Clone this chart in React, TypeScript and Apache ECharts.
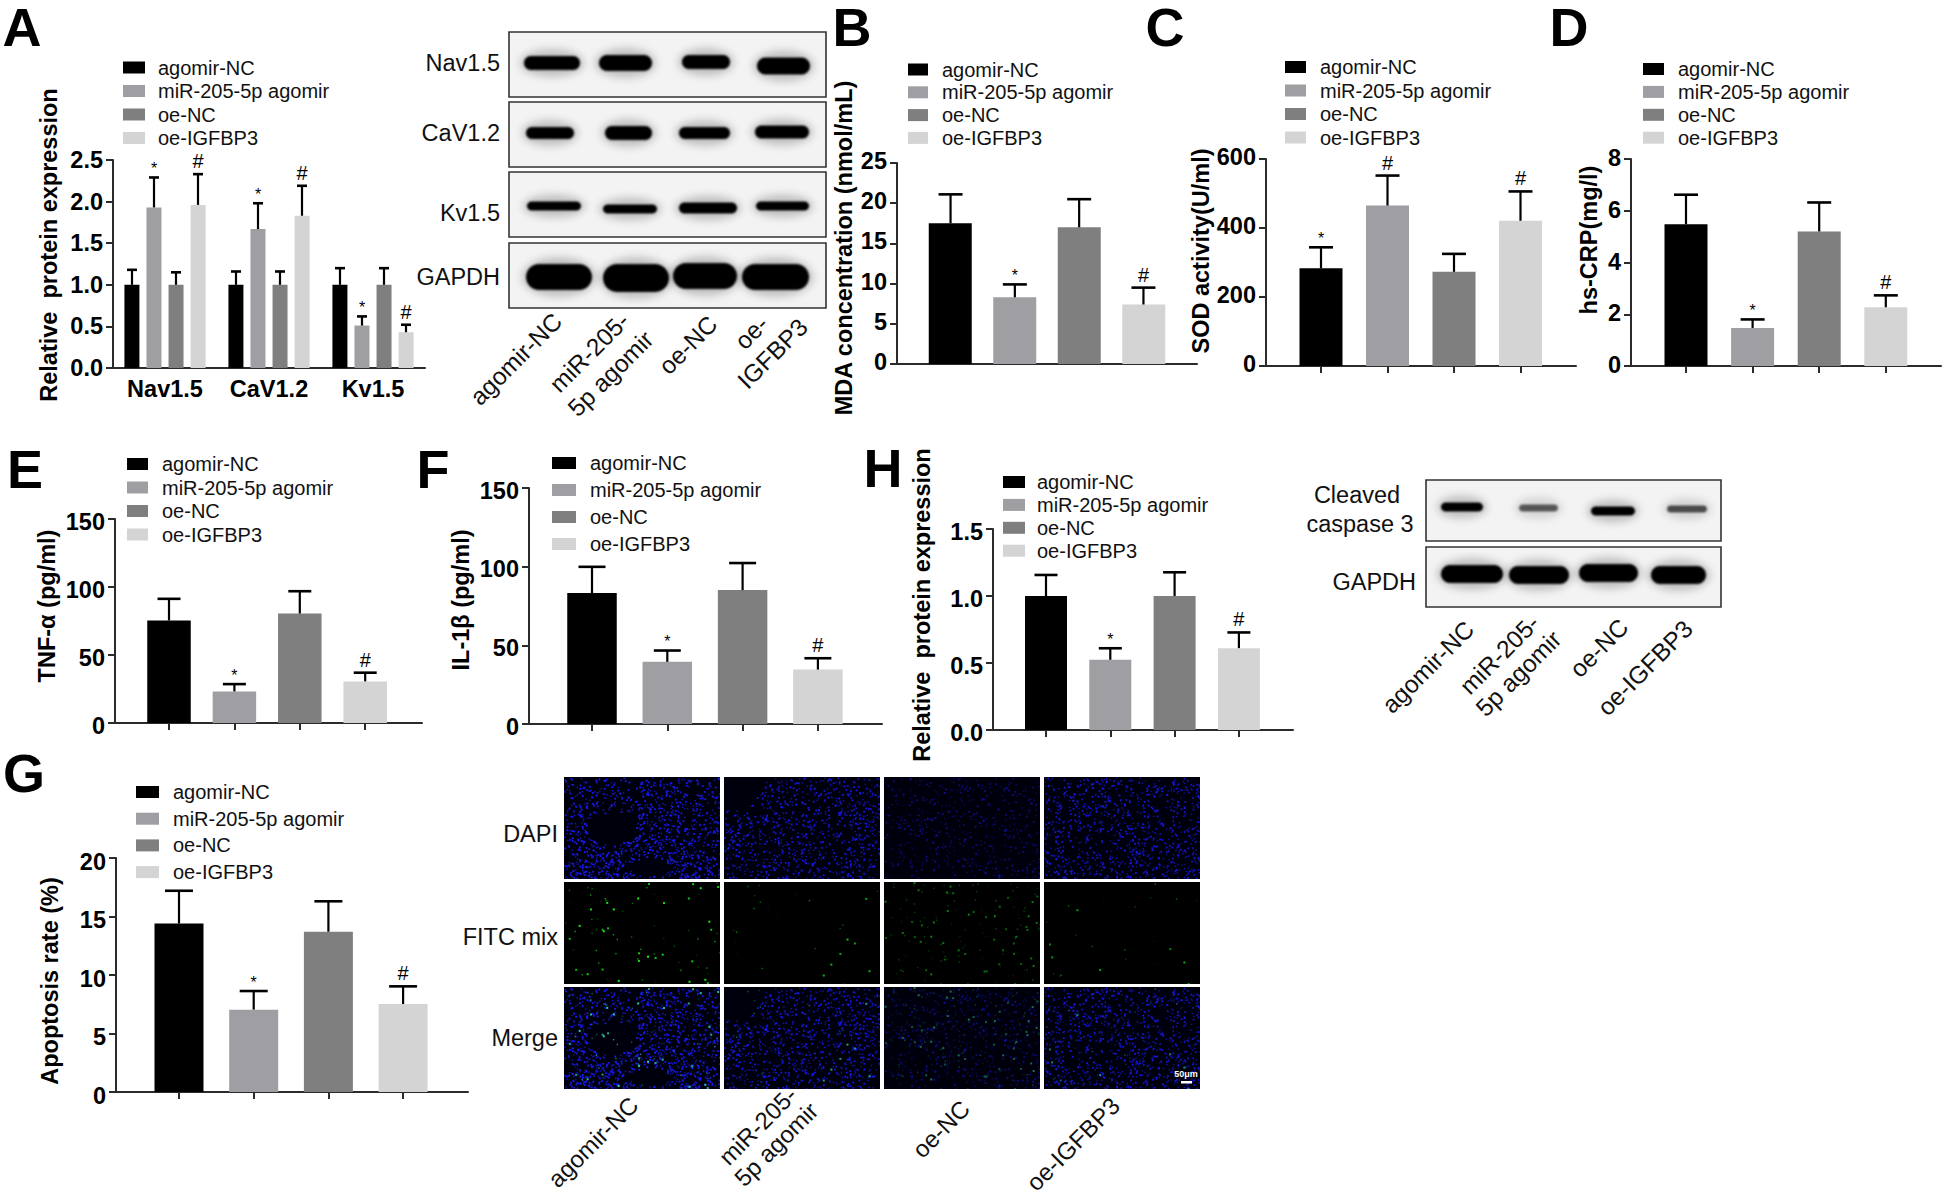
import React, { useEffect, useRef } from "react";
import * as echarts from "echarts";

// ---------- data ----------
const seriesNames = ["agomir-NC", "miR-205-5p agomir", "oe-NC", "oe-IGFBP3"];
const seriesColors = ["#000000", "#9e9ea3", "#7f7f7f", "#d4d4d4"];

const aCategories = ["Nav1.5", "CaV1.2", "Kv1.5"];
const aMeans = [
  [1.0, 1.0, 1.0],
  [1.93, 1.67, 0.51],
  [1.0, 1.0, 1.0],
  [1.96, 1.83, 0.43],
];
const aUppers = [
  [1.18, 1.16, 1.2],
  [2.29, 1.98, 0.62],
  [1.15, 1.16, 1.2],
  [2.33, 2.19, 0.52],
];
const aMarks = [
  ["", "", ""],
  ["*", "*", "*"],
  ["", "", ""],
  ["#", "#", "#"],
];

const bMeans = [17.5, 8.3, 17.0, 7.4];
const bUppers = [21.1, 9.9, 20.5, 9.5];
const bMarks = ["", "*", "", "#"];

const cMeans = [283, 465, 273, 421];
const cUppers = [344, 552, 325, 506];
const cMarks = ["*", "#", "", "#"];

const dMeans = [5.48, 1.47, 5.2, 2.27];
const dUppers = [6.62, 1.8, 6.32, 2.73];
const dMarks = ["", "*", "", "#"];

const eMeans = [75.4, 23.2, 80.5, 30.6];
const eUppers = [91.3, 28.6, 96.9, 37];
const eMarks = ["", "*", "", "#"];

const fMeans = [83.2, 39.5, 85.1, 34.6];
const fUppers = [99.9, 46.7, 102.3, 41.8];
const fMarks = ["", "*", "", "#"];

const hMeans = [1.0, 0.524, 1.0, 0.611];
const hUppers = [1.157, 0.61, 1.177, 0.728];
const hMarks = ["", "*", "", "#"];

const gMeans = [14.4, 7.04, 13.7, 7.52];
const gUppers = [17.2, 8.63, 16.3, 9.03];
const gMarks = ["", "*", "", "#"];

// ---------- layout (pixels on the 1944x1194 page) ----------
const FONT = '"Liberation Sans", Arial, sans-serif';
const BOLD = 23.5;
const RAD = Math.PI / 180;
const AXIS = "#2b2b2b";

type Panel = {
  left: number; right: number; top: number; bottom: number;
  yMax: number; yStep: number; digits: number; labelPad: number;
  tick0: number; tickStep: number; barW: number; capW: number;
  means: number[]; uppers: number[]; marks: string[];
  legend: { x: number; y: number; gap: number; sw: number; pad: number };
};

const singlePanels: Panel[] = [
  { left: 1266, right: 1576, top: 159, bottom: 366, yMax: 600, yStep: 200, digits: 0, labelPad: -2, tick0: 1321, tickStep: 66.5, barW: 43, capW: 24,
    means: cMeans, uppers: cUppers, marks: cMarks, legend: { x: 1285, y: 67, gap: 23.5, sw: 21, pad: 9 } },
  { left: 1631, right: 1941, top: 159, bottom: 366, yMax: 8, yStep: 2, digits: 0, labelPad: -1, tick0: 1686, tickStep: 66.6, barW: 43, capW: 24,
    means: dMeans, uppers: dUppers, marks: dMarks, legend: { x: 1643, y: 69, gap: 22.9, sw: 21, pad: 9 } },
  { left: 115, right: 422, top: 519, bottom: 723, yMax: 150, yStep: 50, digits: 0, labelPad: 2.5, tick0: 169, tickStep: 65.4, barW: 43.5, capW: 23,
    means: eMeans, uppers: eUppers, marks: eMarks, legend: { x: 127, y: 464, gap: 23.5, sw: 21, pad: 9 } },
  { left: 529, right: 882, top: 488, bottom: 724, yMax: 150, yStep: 50, digits: 0, labelPad: 2.5, tick0: 592, tickStep: 75.3, barW: 49.5, capW: 27,
    means: fMeans, uppers: fUppers, marks: fMarks, legend: { x: 552, y: 463, gap: 27, sw: 24, pad: 9 } },
  { left: 993, right: 1293, top: 529, bottom: 730, yMax: 1.5, yStep: 0.5, digits: 1, labelPad: 3, tick0: 1046, tickStep: 64.3, barW: 42, capW: 23,
    means: hMeans, uppers: hUppers, marks: hMarks, legend: { x: 1003, y: 482, gap: 22.9, sw: 22, pad: 7 } },
  { left: 116, right: 468, top: 858, bottom: 1092, yMax: 20, yStep: 5, digits: 0, labelPad: 3.5, tick0: 179, tickStep: 74.7, barW: 49, capW: 28,
    means: gMeans, uppers: gUppers, marks: gMarks, legend: { x: 136, y: 792, gap: 26.7, sw: 23, pad: 9 } },
];

// ---------- textures for the photographs (blots, micrographs) ----------
type Band = [number, number, number, number, number];

function blotImage(w: number, h: number, bands: Band[]): string {
  const c = document.createElement("canvas");
  c.width = w * 2; c.height = h * 2;
  const x = c.getContext("2d")!;
  x.scale(2, 2);
  x.fillStyle = "#f3f3f3";
  x.fillRect(0, 0, w, h);
  for (const [x0, x1, yc, t, a] of bands) {
    x.filter = "blur(8px)";
    x.fillStyle = `rgba(0,0,0,${0.2 * a})`;
    x.beginPath();
    x.ellipse((x0 + x1) / 2, yc, (x1 - x0) / 2 + 4, t / 2 + 7, 0, 0, Math.PI * 2);
    x.fill();
    x.filter = "blur(2.2px)";
    x.fillStyle = `rgba(0,0,0,${a})`;
    x.beginPath();
    x.roundRect(x0, yc - t / 2, x1 - x0, t, t / 2);
    x.fill();
  }
  return c.toDataURL("image/png");
}

function lcg(seed: number) {
  let s = seed >>> 0;
  return () => {
    s = (Math.imul(s, 1664525) + 1013904223) >>> 0;
    return s / 4294967296;
  };
}

const tileDapi = [1500, 950, 480, 950];
const tileDim = [1, 0.9, 0.5, 0.85];
const tileGreen = [90, 30, 170, 30];
const tileGreenAlpha = [0.95, 0.75, 0.5, 0.65];

function microImage(col: number, row: number): string {
  const W = 156, H = 102;
  const c = document.createElement("canvas");
  c.width = W * 2; c.height = H * 2;
  const x = c.getContext("2d")!;
  x.scale(2, 2);
  x.fillStyle = row === 1 ? "#000000" : "#00000c";
  x.fillRect(0, 0, W, H);
  const rnd = lcg(31 * col + 7);
  const inHole = (px: number, py: number) => {
    if (col === 0) {
      if (((px - 47) / 25) ** 2 + ((py - 51) / 16) ** 2 < 1) return true;
      if (((px - 85) / 20) ** 2 + ((py - 90) / 9) ** 2 < 1) return true;
    }
    if (col === 1 && ((px - 8) / 30) ** 2 + ((py - 3) / 30) ** 2 < 1) return true;
    return false;
  };
  if (row !== 1) {
    for (let i = 0; i < tileDapi[col]; i++) {
      const px = rnd() * W, py = rnd() * H;
      const v = rnd();
      if (inHole(px, py)) continue;
      if (col === 0 && py < 50 && rnd() < 0.3) continue;
      x.fillStyle = `rgba(25,25,${Math.round(215 + 40 * v)},${tileDim[col] * (0.75 + 0.25 * v)})`;
      const s = v > 0.6 ? 1.8 : 1.4;
      x.fillRect(px, py, s, s);
    }
  }
  if (row !== 0) {
    const rg = lcg(97 * col + 13);
    for (let i = 0; i < tileGreen[col]; i++) {
      const px = rg() * W, py = rg() * H;
      const v = rg();
      const a = tileGreenAlpha[col] * v;
      x.fillStyle = row === 2 ? `rgba(40,230,170,${a})` : `rgba(20,255,30,${a})`;
      const s = v > 0.7 ? 2 : 1.4;
      x.fillRect(px, py, s, s);
    }
  }
  return c.toDataURL("image/png");
}

// ---------- option helpers ----------
function yAxisOf(gridIndex: number, max: number, step: number, digits: number, labelPad = 0) {
  return {
    type: "value", gridIndex, min: 0, max, interval: step,
    axisLine: { show: true, onZero: false, lineStyle: { color: AXIS, width: 2 } },
    axisTick: { show: true, length: 7, lineStyle: { color: AXIS, width: 2 } },
    splitLine: { show: false },
    axisLabel: {
      margin: 10, color: "#000", fontFamily: FONT, fontWeight: "bold", fontSize: BOLD,
      formatter: (v: number) => `{v|${v.toFixed(digits)}}`,
      rich: {
        v: {
          fontFamily: FONT, fontWeight: "bold", fontSize: BOLD, color: "#000",
          padding: labelPad >= 0 ? [labelPad * 2, 0, 0, 0] : [0, 0, -labelPad * 2, 0],
        },
      },
    },
  };
}

function errorSeries(
  name: string, gridIndex: number, data: number[][], marks: string[], spacing: number, capW: number,
) {
  return {
    type: "custom", name, xAxisIndex: gridIndex, yAxisIndex: gridIndex, z: 5, silent: true,
    clip: false, data, encode: { x: 0, y: 1 },
    renderItem: (params: any, api: any) => {
      const off = api.value(2) * spacing;
      const top = api.coord([api.value(0), api.value(1)]);
      const bot = api.coord([api.value(0), api.value(3)]);
      const x = top[0] + off;
      const line = { stroke: "#000", lineWidth: 2.2 };
      const children: any[] = [
        { type: "line", shape: { x1: x, y1: top[1], x2: x, y2: bot[1] }, style: line },
        { type: "line", shape: { x1: x - capW / 2, y1: top[1], x2: x + capW / 2, y2: top[1] }, style: { stroke: "#000", lineWidth: 2.6 } },
      ];
      const m = marks[params.dataIndex];
      if (m) {
        children.push({
          type: "text",
          style: {
            text: m, x, y: top[1] + (m === "#" ? -13 : -9),
            fontFamily: FONT, fontSize: m === "#" ? 20 : 16,
            fill: "#000", align: "center", verticalAlign: "middle",
          },
        });
      }
      return { type: "group", children };
    },
  };
}

function legendOf(cfg: { x: number; y: number; gap: number; sw: number; pad: number }) {
  return {
    orient: "vertical", left: cfg.x, top: cfg.y - 10.5, padding: 0,
    itemWidth: cfg.sw, itemHeight: 12, itemGap: cfg.gap - 21,
    icon: "rect", selectedMode: false, data: seriesNames,
    textStyle: { fontFamily: FONT, fontSize: 20, color: "#111", padding: [0, 0, 0, cfg.pad], height: 21, lineHeight: 21 },
  };
}

function buildOption() {
  const grids: any[] = [];
  const xAxes: any[] = [];
  const yAxes: any[] = [];
  const series: any[] = [];
  const legends: any[] = [];

  // Panel A: three groups of four bars
  grids.push({ left: 113, width: 312, top: 160, height: 208 });
  xAxes.push({
    type: "category", gridIndex: 0, data: aCategories,
    axisLine: { lineStyle: { color: AXIS, width: 2 } },
    axisTick: { alignWithLabel: true, length: 7, lineStyle: { color: AXIS, width: 2 } },
    axisLabel: { margin: 9, color: "#000", fontFamily: FONT, fontWeight: "bold", fontSize: BOLD },
  });
  yAxes.push(yAxisOf(0, 2.5, 0.5, 1));
  seriesNames.forEach((n, i) => {
    series.push({
      type: "bar", name: n, xAxisIndex: 0, yAxisIndex: 0, data: aMeans[i],
      barWidth: 15, barGap: "47%", itemStyle: { color: seriesColors[i] },
    });
  });
  const aErr: number[][] = [];
  const aErrMarks: string[] = [];
  seriesNames.forEach((_, i) => aCategories.forEach((_c, k) => {
    aErr.push([k, aUppers[i][k], i - 1.5, aMeans[i][k]]);
    aErrMarks.push(aMarks[i][k]);
  }));
  series.push(errorSeries("A error", 0, aErr, aErrMarks, 22, 10));
  legends.push(legendOf({ x: 123, y: 67.5, gap: 23.5, sw: 22, pad: 8 }));

  // Panel B: one group of four bars, a single tick
  grids.push({ left: 897, width: 300, top: 163, height: 201 });
  xAxes.push({
    type: "category", gridIndex: 1, data: [""],
    axisLine: { lineStyle: { color: AXIS, width: 2 } },
    axisTick: { alignWithLabel: true, length: 7, lineStyle: { color: AXIS, width: 2 } },
    axisLabel: { show: false },
  });
  yAxes.push(yAxisOf(1, 25, 5, 0, -2));
  seriesNames.forEach((n, i) => {
    series.push({
      type: "bar", name: n, xAxisIndex: 1, yAxisIndex: 1, data: [bMeans[i]],
      barWidth: 43, barGap: "50%", itemStyle: { color: seriesColors[i] },
    });
  });
  series.push(errorSeries("B error", 1, bMeans.map((m, i) => [0, bUppers[i], i - 1.5, m]), bMarks, 64.3, 24));
  legends.push(legendOf({ x: 908, y: 69.5, gap: 22.8, sw: 20, pad: 9 }));

  // Panels C, D, E, F, H, G: one tick under each bar
  singlePanels.forEach((p, idx) => {
    const g = idx + 2;
    grids.push({ left: p.left, width: p.right - p.left, top: p.top, height: p.bottom - p.top });
    xAxes.push({
      type: "value", gridIndex: g,
      min: (p.left - p.tick0) / p.tickStep, max: (p.right - p.tick0) / p.tickStep,
      axisLine: { show: true, onZero: false, lineStyle: { color: AXIS, width: 2 } },
      axisTick: { show: true, length: 7, customValues: [0, 1, 2, 3], lineStyle: { color: AXIS, width: 2 } },
      axisLabel: { show: false }, splitLine: { show: false },
    });
    yAxes.push(yAxisOf(g, p.yMax, p.yStep, p.digits, p.labelPad));
    seriesNames.forEach((n, i) => {
      series.push({
        type: "bar", name: n, xAxisIndex: g, yAxisIndex: g, data: [[i, p.means[i]]],
        barWidth: p.barW, barGap: "-100%", itemStyle: { color: seriesColors[i] },
      });
    });
    series.push(errorSeries("err" + idx, g, p.means.map((m, i) => [i, p.uppers[i], 0, m]), p.marks, 0, p.capW));
    legends.push(legendOf(p.legend));
  });

  // ---------- texts and photographs ----------
  const els: any[] = [];
  const txt = (text: string, x: number, y: number, o: any = {}, rotation = 0) => {
    els.push({
      type: "text", x, y, rotation, z: 20,
      style: {
        text, x: 0, y: 0, fontFamily: FONT, fontSize: 23.5, fill: "#111",
        align: "center", verticalAlign: "middle", ...o,
      },
    });
  };
  const letters: [string, number, number][] = [
    ["A", 22, 27], ["B", 852, 27], ["C", 1165, 27], ["D", 1569, 27],
    ["E", 25, 469], ["F", 433, 469], ["H", 883, 468], ["G", 24, 773],
  ];
  letters.forEach(([l, x, y]) => txt(l, x, y, { fontSize: 54, fontWeight: "bold", fill: "#000" }));

  const yNames: [string, number, number][] = [
    ["Relative  protein expression", 49, 245],
    ["MDA concentration (nmol/mL)", 844, 248],
    ["SOD activity(U/ml)", 1201, 251],
    ["hs-CRP(mg/l)", 1589, 240],
    ["TNF-α (pg/ml)", 47, 606],
    ["IL-1β (pg/ml)", 461, 600],
    ["Relative  protein expression", 922, 605],
    ["Apoptosis rate (%)", 50, 981],
  ];
  yNames.forEach(([t, x, y]) => txt(t, x, y, { fontWeight: "bold", fill: "#000" }, Math.PI / 2));

  const blot = (x: number, y: number, w: number, h: number, bands: Band[]) => {
    els.push({ type: "image", z: 10, style: { image: blotImage(w, h, bands), x, y, width: w, height: h } });
    els.push({ type: "rect", z: 11, shape: { x, y, width: w, height: h }, style: { fill: "none", stroke: "#333", lineWidth: 1.6 } });
  };
  blot(509, 32, 317, 65, [[15, 71, 31, 14, 1], [90, 143, 31, 16, 1], [173, 221, 30, 14, 1], [248, 301, 34, 17, 1]]);
  blot(509, 102, 317, 65, [[17, 65, 31, 12, 1], [96, 143, 31, 14, 1], [170, 221, 31, 12, 1], [246, 300, 30, 13, 1]]);
  blot(509, 172, 317, 65, [[18, 72, 34, 9, 1], [94, 148, 37, 9, 1], [170, 228, 36, 11, 1], [247, 300, 34, 9, 1]]);
  blot(509, 243, 317, 65, [[17, 83, 34, 26, 1], [94, 160, 35, 28, 1], [164, 228, 33, 26, 1], [233, 300, 34, 26, 1]]);
  blot(1426, 480, 295, 61, [[15, 57, 27, 9, 1], [93, 132, 28, 7, 0.6], [165, 209, 31, 9, 1], [241, 281, 29, 7, 0.65]]);
  blot(1426, 547, 295, 60, [[15, 77, 27, 18, 1], [83, 143, 28, 18, 1], [153, 212, 26, 18, 1], [225, 280, 28, 18, 1]]);

  const right = { align: "right" };
  txt("Nav1.5", 500, 63, right);
  txt("CaV1.2", 500, 133, right);
  txt("Kv1.5", 500, 213, right);
  txt("GAPDH", 500, 277, right);
  txt("Cleaved", 1357, 495);
  txt("caspase 3", 1360, 524);
  txt("GAPDH", 1416, 582, right);

  const rot = 45 * RAD;
  const xl = { fontSize: 24.5, lineHeight: 30 };
  const xlTight = { fontSize: 24.5, lineHeight: 27 };
  const xlBottom = { fontSize: 24, lineHeight: 20 };
  txt("agomir-NC", 593, 1142, xlBottom, rot);
  txt("miR-205-\n5p agomir", 767, 1135, { fontSize: 24, lineHeight: 26 }, rot);
  txt("oe-NC", 941, 1129, xlBottom, rot);
  txt("oe-IGFBP3", 1073, 1144, xlBottom, rot);
  txt("agomir-NC", 516, 359, xl, rot);
  txt("miR-205-\n5p agomir", 600, 363, xl, rot);
  txt("oe-NC", 688, 345, xl, rot);
  txt("oe-\nIGFBP3", 762, 343, xl, rot);
  txt("agomir-NC", 1428, 667, xlTight, rot);
  txt("miR-205-\n5p agomir", 1509, 664, xlTight, rot);
  txt("oe-NC", 1599, 648, xlTight, rot);
  txt("oe-IGFBP3", 1645, 668, xlTight, rot);

  const colX = [564, 724, 884, 1044];
  const rowY = [777, 882, 987];
  colX.forEach((cx, c) => rowY.forEach((ry, r) => {
    els.push({ type: "image", z: 10, style: { image: microImage(c, r), x: cx, y: ry, width: 156, height: 102 } });
  }));
  txt("DAPI", 558, 834, right);
  txt("FITC mix", 558, 937, right);
  txt("Merge", 558, 1038, right);
  txt("50μm", 1186, 1074, { fontSize: 9, fill: "#fff", fontWeight: "bold" });
  els.push({ type: "rect", z: 20, shape: { x: 1181, y: 1081, width: 11, height: 2.5 }, style: { fill: "#fff" } });

  return {
    animation: false, backgroundColor: "#ffffff",
    tooltip: { show: false },
    grid: grids, xAxis: xAxes, yAxis: yAxes, series, legend: legends,
    graphic: { elements: els },
  };
}

export default function App() {
  const ref = useRef<HTMLDivElement>(null);
  useEffect(() => {
    const chart = echarts.init(ref.current!, undefined, { renderer: "svg" });
    chart.setOption(buildOption() as any);
    return () => chart.dispose();
  }, []);
  return <div ref={ref} style={{ position: "absolute", left: 0, top: 0, width: 1944, height: 1194 }} />;
}
